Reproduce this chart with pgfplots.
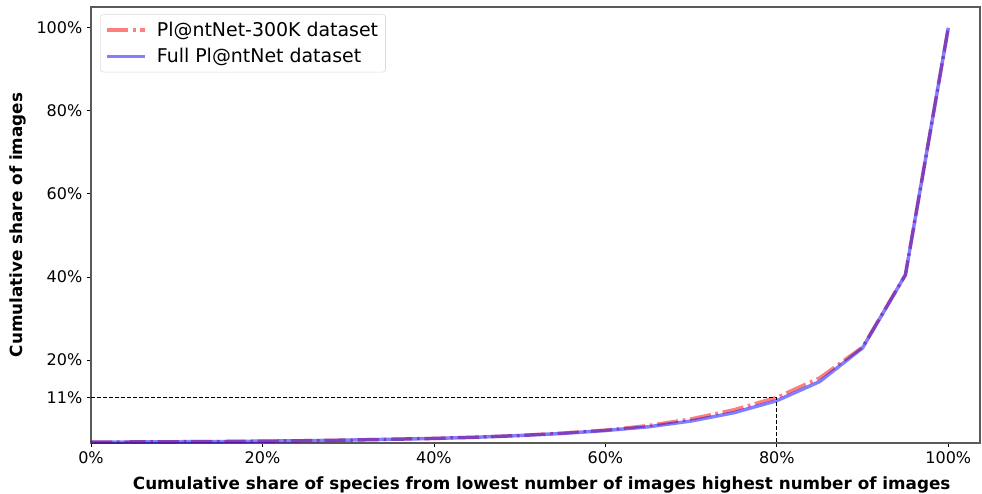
\documentclass[border=0pt]{standalone}
\usepackage{fontspec}
\setmainfont{DejaVu Sans}
\usepackage{pgfplots}
\pgfplotsset{compat=1.18}
\definecolor{spine}{RGB}{90,90,90}
\begin{document}
\begin{tikzpicture}
\begin{axis}[
  name=ax,
  scale only axis,
  width=666.75pt, height=327pt,
  xmin=0, xmax=1.037, ymin=0, ymax=1.05,
  axis line style={spine, line width=0.9pt},
  xtick={0,0.2,0.4,0.6,0.8,1.0},
  xticklabels={0\%,20\%,40\%,60\%,80\%,100\%},
  ytick={0.11,0.2,0.4,0.6,0.8,1.0},
  yticklabels={11\%,20\%,40\%,60\%,80\%,100\%},
  tick align=outside,
  tick style={black, line width=0.6pt},
  major tick length=3pt,
  xtick pos=bottom, ytick pos=left,
  tick label style={font=\fontsize{12}{14}\selectfont},
  /pgf/number format/assume math mode=true,
  xlabel={\bfseries Cumulative share of species from lowest number of images highest number of images},
  ylabel={\bfseries Cumulative share of images},
  label style={font=\fontsize{12.6}{14}\selectfont},
  xlabel style={at={(axis description cs:0.507,0)}, anchor=north, yshift=-21.5pt},
  ylabel style={at={(axis description cs:0,0.5)}, anchor=south, yshift=45pt},
  legend style={at={(0,1)}, anchor=north west, xshift=7pt, yshift=-5.5pt,
    draw=black!15, rounded corners=2pt, font=\fontsize{14.2}{17}\selectfont,
    inner sep=3.5pt, row sep=3.5pt},
  legend cell align=left,
  legend image code/.code={\draw[#1] (0cm,0cm) -- (1.0cm,0cm); \path (1.2cm,0cm);},
]
\addplot[red, opacity=0.5, line width=2.6pt,
  dash pattern=on 16pt off 3.5pt on 2pt off 3.5pt] coordinates {
(0,0.002) (0.05,0.0025) (0.1,0.003) (0.15,0.0035) (0.2,0.0045) (0.25,0.0055)
(0.3,0.007) (0.35,0.009) (0.4,0.011) (0.45,0.014) (0.5,0.018) (0.55,0.024)
(0.6,0.031) (0.65,0.042) (0.7,0.058) (0.75,0.080) (0.8,0.110) (0.85,0.157)
(0.9,0.231) (0.95,0.405) (1.0,1.0)};
\addlegendentry{Pl@ntNet-300K dataset}
\addplot[blue, opacity=0.5, line width=2.6pt] coordinates {
(0,0.002) (0.05,0.0025) (0.1,0.003) (0.15,0.0035) (0.2,0.0045) (0.25,0.0055)
(0.3,0.007) (0.35,0.009) (0.4,0.011) (0.45,0.014) (0.5,0.018) (0.55,0.023)
(0.6,0.030) (0.65,0.039) (0.7,0.053) (0.75,0.073) (0.8,0.102) (0.85,0.148)
(0.9,0.229) (0.95,0.405) (1.0,1.0)};
\addlegendentry{Full Pl@ntNet dataset}
\addplot[black, line width=0.7pt, dash pattern=on 3pt off 1.5pt, forget plot] coordinates {(0,0.11) (0.8,0.11) (0.8,0)};
\end{axis}
\pgfresetboundingbox
\path ([xshift=-68.25pt,yshift=-37.5pt]ax.south west) rectangle ([xshift=1.5pt,yshift=5.25pt]ax.north east);
\end{tikzpicture}
\end{document}
